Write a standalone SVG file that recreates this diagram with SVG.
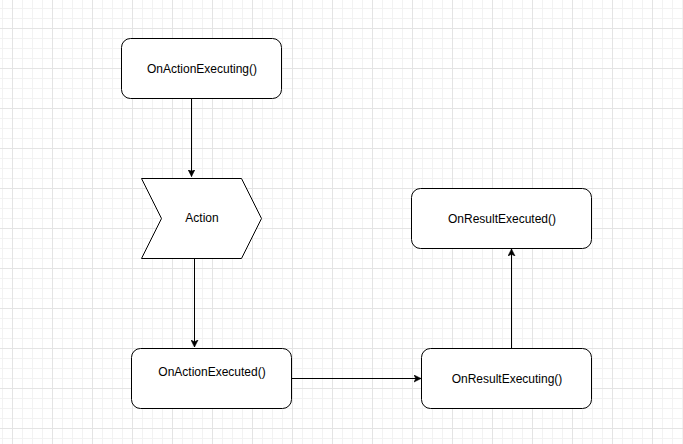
<svg xmlns="http://www.w3.org/2000/svg" width="683" height="444" viewBox="0 0 683 444">
  <defs>
    <pattern id="grid" patternUnits="userSpaceOnUse" x="12" y="28" width="40" height="40">
      <path d="M10.5 0V40M20.5 0V40M30.5 0V40M0 10.5H40M0 20.5H40M0 30.5H40" stroke="#f2f2f2" stroke-width="1" fill="none"/>
      <path d="M0.5 0V40M0 0.5H40" stroke="#e4e4e4" stroke-width="1" fill="none"/>
    </pattern>
    <marker id="arrow" markerWidth="8" markerHeight="8" refX="7" refY="4" orient="auto" markerUnits="userSpaceOnUse">
      <path d="M0 0.5 L7 4 L0 7.5 L1.8 4 Z" fill="#000" stroke="#000" stroke-width="0.6"/>
    </marker>
  </defs>
  <style>
    .node { fill: #fff; stroke: #000; stroke-width: 1; }
    .lbl { font-family: "Liberation Sans", Arial, Helvetica, sans-serif; font-size: 12px; fill: #000; text-anchor: middle; }
    .edge { stroke: #000; stroke-width: 1; fill: none; marker-end: url(#arrow); }
  </style>
  <rect width="683" height="444" fill="#fff"/>
  <rect width="683" height="444" fill="url(#grid)"/>

  <g id="connectors">
    <path class="edge" d="M191.5 98.5 V176.5"/>
    <path class="edge" d="M194.5 258.5 V347"/>
    <path class="edge" d="M291.5 378.5 H421"/>
    <path class="edge" d="M511.5 348.5 V249"/>
  </g>

  <g id="onActionExecuting">
    <rect class="node" x="121.5" y="38.5" width="160" height="60" rx="9" ry="9"/>
    <text class="lbl" x="202" y="73">OnActionExecuting()</text>
  </g>

  <g id="action">
    <path class="node" d="M141.5 178.5 H241.5 L261.5 218.5 L241.5 258.5 H141.5 L161.5 218.5 Z"/>
    <text class="lbl" x="202" y="222">Action</text>
  </g>

  <g id="onActionExecuted">
    <rect class="node" x="131.5" y="348.5" width="160" height="60" rx="9" ry="9"/>
    <text class="lbl" x="212" y="376">OnActionExecuted()</text>
  </g>

  <g id="onResultExecuting">
    <rect class="node" x="421.5" y="348.5" width="170" height="60" rx="9" ry="9"/>
    <text class="lbl" x="507" y="383">OnResultExecuting()</text>
  </g>

  <g id="onResultExecuted">
    <rect class="node" x="411.5" y="188.5" width="180" height="60" rx="9" ry="9"/>
    <text class="lbl" x="502" y="223">OnResultExecuted()</text>
  </g>
</svg>
